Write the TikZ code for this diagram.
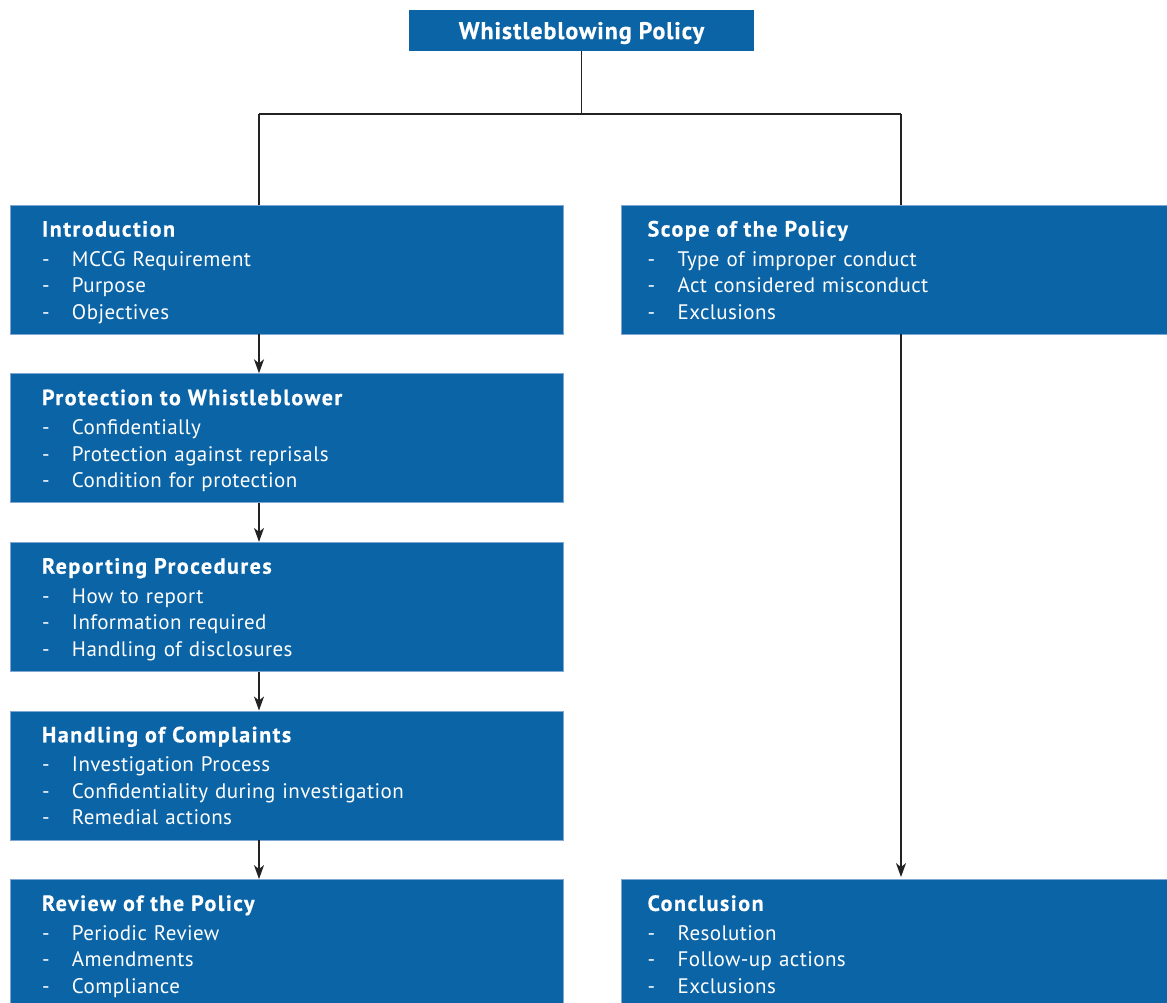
\documentclass[tikz,border=0pt]{standalone}
\usepackage{fontspec}
\setmainfont{PT Sans}[LetterSpace=2]
\newfontfamily\headfont{PT Sans}[LetterSpace=7,BoldFeatures={FakeBold=0.6}]
\usetikzlibrary{arrows.meta,positioning,calc}
\definecolor{cB}{HTML}{0B64A6}
\definecolor{cE}{HTML}{7FA7D1}
\definecolor{cL}{HTML}{222222}
\newcommand{\secbox}[4]{{\fontsize{11}{13.25}\selectfont\headfont\bfseries\rule{0pt}{11.25pt}#1}\\[1.5pt]
  \makebox[15pt][l]{-}#2\\ \makebox[15pt][l]{-}#3\\ \makebox[15pt][l]{-}#4\rule[-3pt]{0pt}{3pt}}

\begin{document}
\begin{tikzpicture}[x=0.5pt,y=-0.5pt,
  sec/.style={fill=cB,draw=cE,line width=0.3pt,text=white,
    minimum width=276.5pt,minimum height=64.5pt,inner xsep=16pt,inner ysep=0pt,
    text width=244.5pt,align=left,font=\fontsize{10.5}{13.25}\selectfont},
  secr/.style={sec,inner xsep=13pt,text width=250.5pt},
  line/.style={draw=cL,line width=0.75pt},
  arr/.style={line,-{Stealth[length=7pt,width=5pt,inset=2pt]}},
  node distance=19.5pt]
  \useasboundingbox (0,0) rectangle (1167,1002);
  \node[fill=cB,text=white,minimum width=172.5pt,minimum height=20.5pt,text depth=0pt,
    font=\fontsize{12}{14}\selectfont\headfont\bfseries\addfontfeatures{LetterSpace=4}] (top) at (581.5,30.5){Whistleblowing Policy};
  % left column
  \node[sec] (intro) at (286.5,269.5){\secbox{Introduction}{MCCG Requirement}{Purpose}{Objectives}};
  \node[sec,below=of intro] (prot){\secbox{Protection to Whistleblower}{Confidentially}{Protection against reprisals}{Condition for protection}};
  \node[sec,below=of prot] (rep){\secbox{Reporting Procedures}{How to report}{Information required}{Handling of disclosures}};
  \node[sec,below=of rep] (hand){\secbox{Handling of Complaints}{Investigation Process}{Confidentiality during investigation}{Remedial actions}};
  \node[sec,below=of hand] (rev){\secbox{Review of the Policy}{Periodic Review}{Amendments}{Compliance}};
  % right column
  \node[secr,right=29pt of intro] (scope){\secbox{Scope of the Policy}{Type of improper conduct}{Act considered misconduct}{Exclusions}};
  \node[secr,right=29pt of rev] (concl){\secbox{Conclusion}{Resolution}{Follow-up actions}{Exclusions}};
  \coordinate (split) at (581.5,114);
  \coordinate (lcol) at (259,114);
  \coordinate (rcol) at (901,114);
  \draw[line] (top) -- (split);
  \draw[line] (lcol) -- (rcol);
  \draw[line] (lcol) -- (lcol |- intro.north);
  \draw[line] (rcol) -- (rcol |- scope.north);
  \foreach \a/\b in {intro/prot,prot/rep,rep/hand,hand/rev}{
    \draw[arr] (lcol |- \a.south) -- (lcol |- \b.north);}
  \draw[arr] (rcol |- scope.south) -- ([yshift=1pt]rcol |- concl.north);
\end{tikzpicture}
\end{document}
